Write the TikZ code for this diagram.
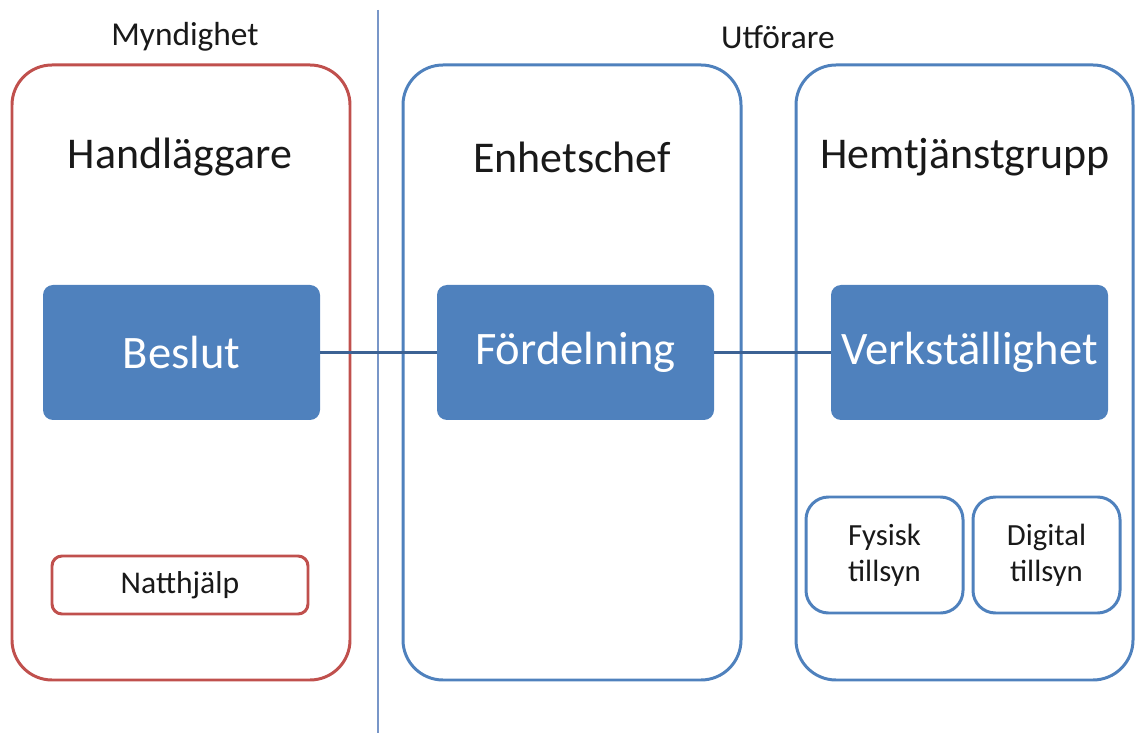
\documentclass[tikz,border=0pt]{standalone}
\usepackage{fontspec}
\setmainfont{Carlito}
\usepackage{tikz}
\definecolor{myred}{RGB}{192,80,77}
\definecolor{myblue}{RGB}{79,129,189}
\definecolor{linkblue}{RGB}{60,98,148}
\definecolor{sepblue}{RGB}{120,150,200}
\definecolor{ink}{RGB}{25,25,25}
\tikzstyle{head}=[text=ink,font=\fontsize{19}{22}\selectfont]
\tikzstyle{title}=[text=ink,font=\fontsize{25}{29}\selectfont]
\tikzstyle{lane}=[draw,line width=1.7pt,rounded corners=0.8cm,minimum width=6.76cm,minimum height=12.3cm]
\tikzstyle{task}=[fill=myblue,rounded corners=0.2cm,minimum width=5.54cm,minimum height=2.7cm,text=white,font=\fontsize{26.5}{30}\selectfont]
\tikzstyle{sub}=[draw,line width=1.7pt,text=ink,font=\fontsize{17.5}{20.5}\selectfont,align=center]
\tikzstyle{link}=[draw=linkblue,line width=1.7pt]

\begin{document}
\begin{tikzpicture}
        \useasboundingbox (0,0) rectangle (22.78,14.66);
        \coordinate (sepT) at (7.56, 14.46);
        \coordinate (sepB) at (7.56, 0);
        \draw[sepblue, line width=0.8pt] (sepT) -- (sepB);

        \node[head] (myndighet) at (3.70, 13.92) {Myndighet};
        \node[head] (utforare) at (15.56, 13.92) {Utförare};

        \node[lane, draw=myred] (laneA) at (3.62, 7.21) {};
        \node[lane, draw=myblue] (laneB) at (11.44, 7.21) {};
        \node[lane, draw=myblue, minimum width=6.74cm] (laneC) at (19.29, 7.21) {};

        \node[title] (handl) at (3.60, 11.52) {Handläggare};
        \node[title] (enhet) at (11.44, 11.52) {Enhetschef};
        \node[title] (hemtj) at (19.30, 11.52) {Hemtjänstgrupp};

        \node[task] (beslut) at (3.63, 7.61) {Beslut}
        ;
        \node[task] (fordel) at (11.51, 7.61) {Fördelning}
            edge[link] (beslut)
        ;
        \node[task] (verk) at (19.39, 7.61) {Verkställighet}
            edge[link] (fordel)
        ;

        \node[sub, draw=myred, rounded corners=0.2cm, minimum width=5.12cm, minimum height=1.16cm, font=\fontsize{18}{21}\selectfont] (natt) at (3.60, 2.96) {Natthjälp};
        \node[sub, draw=myblue, rounded corners=0.45cm, minimum width=3.14cm, minimum height=2.32cm] (fysisk) at (17.69, 3.56) {Fysisk\\tillsyn};
        \node[sub, draw=myblue, rounded corners=0.45cm, minimum width=2.94cm, minimum height=2.32cm] (digital) at (20.93, 3.56) {Digital\\tillsyn};
    \end{tikzpicture}
\end{document}
